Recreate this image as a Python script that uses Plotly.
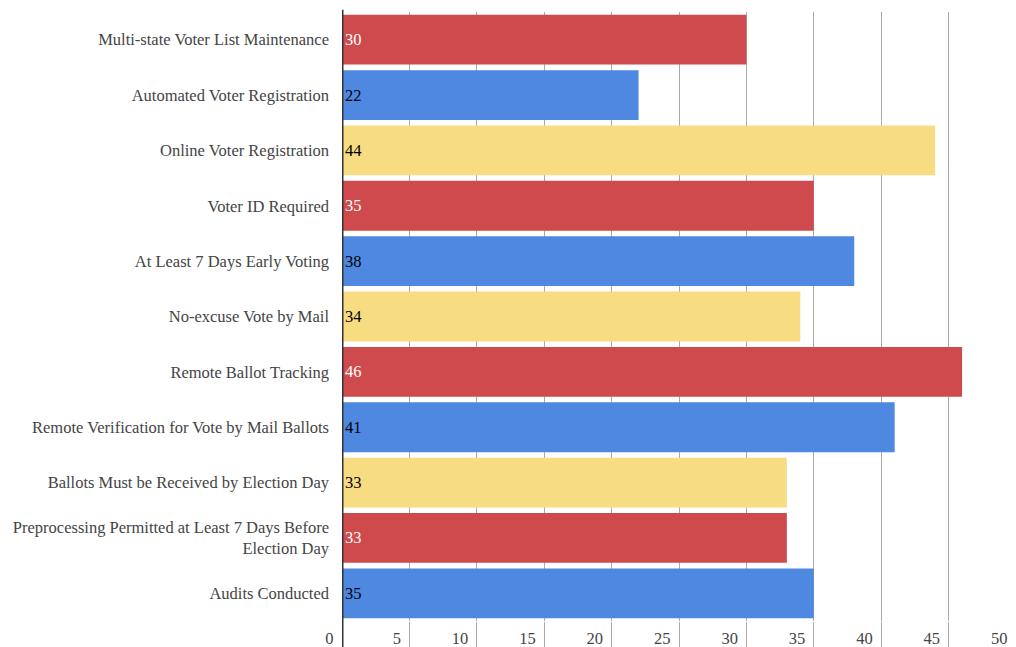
import plotly.graph_objects as go

categories = [
    "Multi-state Voter List Maintenance",
    "Automated Voter Registration",
    "Online Voter Registration",
    "Voter ID Required",
    "At Least 7 Days Early Voting",
    "No-excuse Vote by Mail",
    "Remote Ballot Tracking",
    "Remote Verification for Vote by Mail Ballots",
    "Ballots Must be Received by Election Day",
    "Preprocessing Permitted at Least 7 Days Before<br>Election Day",
    "Audits Conducted",
]
values = [30, 22, 44, 35, 38, 34, 46, 41, 33, 33, 35]
bar_colors = ["#CF4A4D", "#4E88E0", "#F7DC82"] * 4
label_colors = ["#FFFFFF", "#000000", "#000000"] * 4
x_ticks = [0, 5, 10, 15, 20, 25, 30, 35, 40, 45, 50]

n = len(categories)
fig = go.Figure(go.Bar(
    y=categories,
    x=values,
    orientation="h",
    marker=dict(color=bar_colors[:n], line=dict(width=0)),
    text=[str(v) for v in values],
    textposition="inside",
    insidetextanchor="start",
    textfont=dict(family="Liberation Serif", size=16.5, color=label_colors[:n]),
    cliponaxis=False,
))

fig.update_layout(
    width=1008, height=639,
    margin=dict(l=334, r=0, t=4, b=26),
    paper_bgcolor="white", plot_bgcolor="white",
    bargap=0.1,
    showlegend=False,
    font=dict(family="Liberation Serif", size=16.5, color="#444444"),
)
fig.update_xaxes(
    range=[0, 50],
    tickvals=x_ticks,
    ticktext=[str(t) for t in x_ticks],
    showgrid=True, gridcolor="#AAAAAA", gridwidth=1,
    zeroline=False,
    ticks="outside", ticklen=27, tickcolor="#AAAAAA", tickwidth=1,
    ticklabelposition="outside left",
    ticklabelstandoff=2,
    ticklabelshift=-8,
    tickfont=dict(family="Liberation Serif", size=16.5, color="#444444"),
)
fig.update_yaxes(
    autorange="reversed",
    showgrid=False,
    zeroline=False,
    ticks="", ticklabelstandoff=12,
    tickfont=dict(family="Liberation Serif", size=16.5, color="#444444"),
)
fig.add_shape(type="line", xref="x", yref="paper", x0=0, x1=0, y0=-0.05, y1=1.0035,
              line=dict(color="#333333", width=3))

fig.write_html("out.html")
